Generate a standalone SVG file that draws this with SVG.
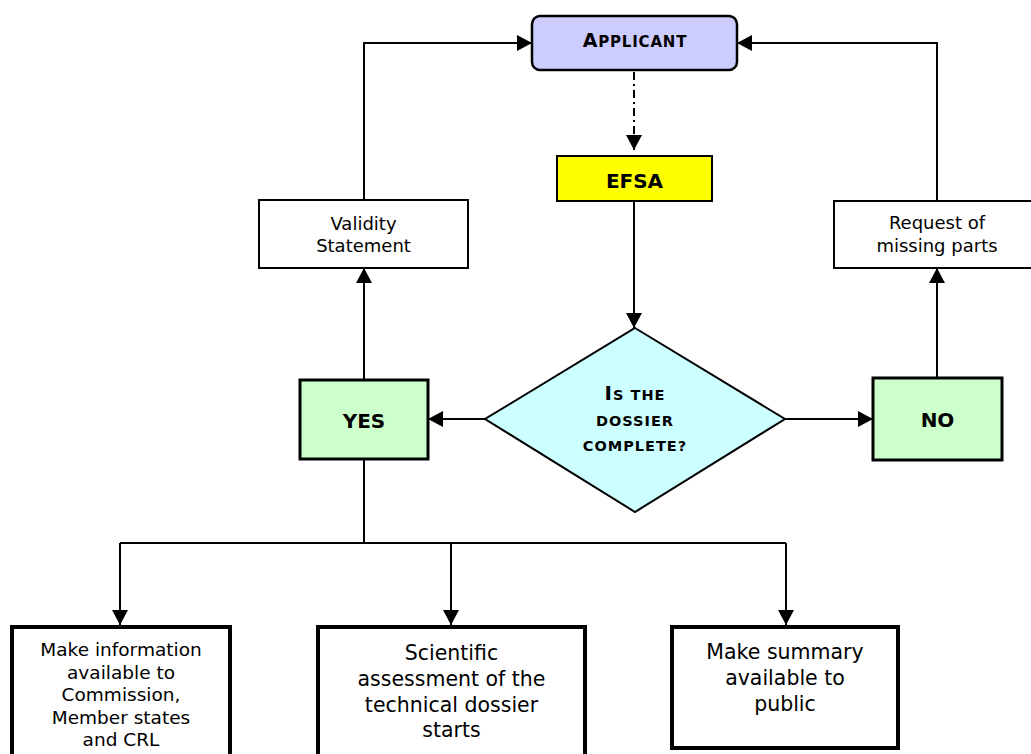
<svg xmlns="http://www.w3.org/2000/svg" width="1031" height="754" viewBox="0 0 1031 754">
<style>
text{font-family:"DejaVu Sans",Verdana,sans-serif;fill:#000;text-anchor:middle}
.b{font-weight:bold}
.c{fill:none;stroke:#000;stroke-width:2}
.box{fill:#fff;stroke:#000;stroke-width:2}
.thick{fill:#fff;stroke:#000;stroke-width:4}
.g{fill:#ccffcc;stroke:#000;stroke-width:3}
</style>
<defs>
<marker id="ah" markerUnits="userSpaceOnUse" markerWidth="15" markerHeight="16" refX="15" refY="8" orient="auto">
<path d="M0,0 L15,8 L0,16 z" fill="#000"/>
</marker>
</defs>
<rect width="1031" height="754" fill="#fff"/>
<g id="connectors">
<path class="c" d="M364,200 V43 H532" marker-end="url(#ah)"/>
<path class="c" d="M937,201 V43 H737" marker-end="url(#ah)"/>
<path class="c" d="M634,72 V150" stroke-dasharray="8,4,2,4" marker-end="url(#ah)"/>
<path class="c" d="M634,201 V328" marker-end="url(#ah)"/>
<path class="c" d="M485,419 H428" marker-end="url(#ah)"/>
<path class="c" d="M785,419 H873" marker-end="url(#ah)"/>
<path class="c" d="M364,380 V268" marker-end="url(#ah)"/>
<path class="c" d="M937,378 V268" marker-end="url(#ah)"/>
<path class="c" d="M364,459 V543"/>
<path class="c" d="M120,543 H786"/>
<path class="c" d="M120,543 V625" marker-end="url(#ah)"/>
<path class="c" d="M451,543 V625" marker-end="url(#ah)"/>
<path class="c" d="M786,543 V625" marker-end="url(#ah)"/>
</g>
<g id="applicant">
<rect x="532" y="16" width="205" height="54" rx="8" fill="#ccccff" stroke="#000" stroke-width="2.5"/>
<text class="b" x="635" y="47" font-size="15" letter-spacing="0.8"><tspan font-size="19">A</tspan>PPLICANT</text>
</g>
<g id="efsa">
<rect x="557" y="156" width="155" height="45" fill="#ffff00" stroke="#000" stroke-width="2"/>
<text class="b" x="634.5" y="188" font-size="20">EFSA</text>
</g>
<g id="decision">
<polygon points="635,328 785,419 635,512 485,419" fill="#ccffff" stroke="#000" stroke-width="2"/>
<text class="b" x="635" y="400" font-size="14.5" letter-spacing="1"><tspan font-size="20">I</tspan>S THE</text>
<text class="b" x="635" y="426" font-size="14.5" letter-spacing="1">DOSSIER</text>
<text class="b" x="635" y="451" font-size="14.5" letter-spacing="1">COMPLETE?</text>
</g>
<g id="validity">
<rect class="box" x="259" y="200" width="209" height="68"/>
<text x="363.5" y="230" font-size="18">Validity</text>
<text x="363.5" y="252" font-size="18">Statement</text>
</g>
<g id="request">
<rect class="box" x="834" y="201" width="206" height="67"/>
<text x="937" y="229" font-size="18">Request of</text>
<text x="937" y="252" font-size="18">missing parts</text>
</g>
<g id="yes">
<rect class="g" x="300" y="380" width="128" height="79"/>
<text class="b" x="364" y="428" font-size="20">YES</text>
</g>
<g id="no">
<rect class="g" x="873" y="378" width="129" height="82"/>
<text class="b" x="937.5" y="427" font-size="20">NO</text>
</g>
<g id="make-info">
<rect class="thick" x="12" y="627" width="218" height="140"/>
<text x="121" y="656" font-size="18.5">Make information</text>
<text x="121" y="678.5" font-size="18.5">available to</text>
<text x="121" y="701" font-size="18.5">Commission,</text>
<text x="121" y="723.5" font-size="18.5">Member states</text>
<text x="121" y="746" font-size="18.5">and CRL</text>
</g>
<g id="scientific">
<rect class="thick" x="318" y="627" width="267" height="140"/>
<text x="451.5" y="660" font-size="20.5">Scientific</text>
<text x="451.5" y="686" font-size="20.5">assessment of the</text>
<text x="451.5" y="712" font-size="20.5">technical dossier</text>
<text x="451.5" y="737" font-size="20.5">starts</text>
</g>
<g id="summary">
<rect class="thick" x="672" y="627" width="226" height="121"/>
<text x="785" y="659" font-size="20.5">Make summary</text>
<text x="785" y="685" font-size="20.5">available to</text>
<text x="785" y="711" font-size="20.5">public</text>
</g>
</svg>
